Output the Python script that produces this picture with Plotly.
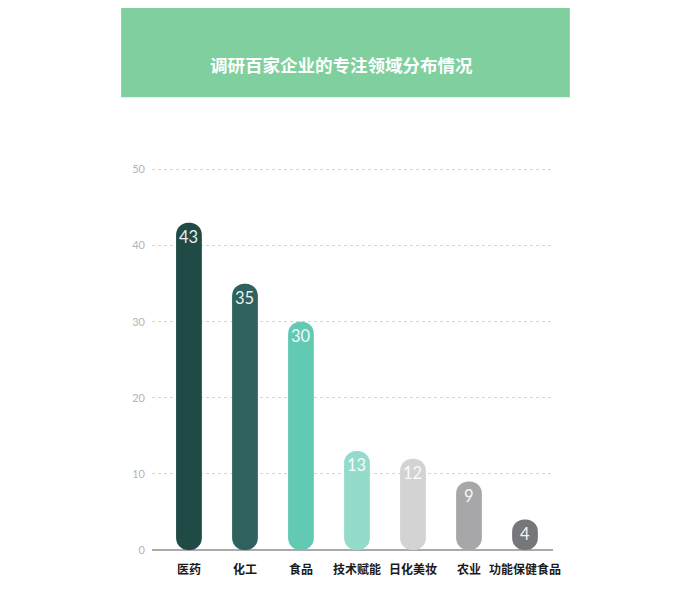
import plotly.graph_objects as go

# 调研百家企业的专注领域分布情况
categories = ["医药", "化工", "食品", "技术赋能", "日化美妆", "农业", "功能保健食品"]
counts = [43, 35, 30, 13, 12, 9, 4]
bar_colors = ["#1f4a45", "#2f625e", "#62c9b3", "#93dccc", "#d3d3d3", "#a7a7a9", "#77777b"]
y_ticks = [0, 10, 20, 30, 40, 50]

title = "调研百家企业的专注领域分布情况"
cjk = "Noto Sans CJK SC"
num_font = "Lato, Noto Sans, sans-serif"

fig = go.Figure()

# an explicit base makes plotly round both ends -> pill shaped bars
fig.add_trace(go.Bar(
    x=categories,
    y=counts,
    base=[0] * len(counts),
    marker=dict(color=bar_colors, line=dict(width=0), cornerradius="50%"),
    width=0.46,
    hovertext=[f"{c}: {v}" for c, v in zip(categories, counts)],
    hoverinfo="text",
    showlegend=False,
))

# value labels just under the top of each bar
value_labels = [
    dict(x=c, y=v, xref="x", yref="y", text=str(v), showarrow=False,
         yanchor="top", yshift=-2,
         font=dict(family=num_font, size=16.5, color="rgba(255,255,255,0.93)"))
    for c, v in zip(categories, counts)
]

fig.update_layout(
    width=690,
    height=597,
    margin=dict(l=144, r=145, t=159.5, b=55),
    paper_bgcolor="white",
    plot_bgcolor="white",
    font=dict(family=cjk),
    shapes=[
        dict(type="rect", xref="paper", yref="paper",
             x0=-0.077, x1=1.042, y0=1.185, y1=1.46,
             fillcolor="#7fd09e", line=dict(width=0), layer="below"),
    ],
    annotations=[
        dict(text="<b>" + title + "</b>", xref="paper", yref="paper",
             x=0.473, y=1.31, showarrow=False,
             font=dict(family=cjk, size=17.5, color="white")),
    ] + value_labels,
)

fig.update_xaxes(
    type="category",
    range=[-0.66, 6.5],
    showgrid=False,
    showline=False,
    ticks="",
    tickfont=dict(family=cjk, size=12, color="#1a1a1a", weight="bold"),
    ticklabelstandoff=11,
)
fig.update_yaxes(
    range=[0, 50.2],
    tickvals=y_ticks,
    showgrid=True,
    gridcolor="#d4d4d4",
    griddash="dot",
    gridwidth=1,
    zeroline=True,
    zerolinecolor="#aaaaaa",
    zerolinewidth=1.5,
    showline=False,
    ticks="",
    tickfont=dict(family=num_font, size=11, color="#b4b4b4"),
    ticklabelstandoff=6,
)

fig.write_html("out.html")
